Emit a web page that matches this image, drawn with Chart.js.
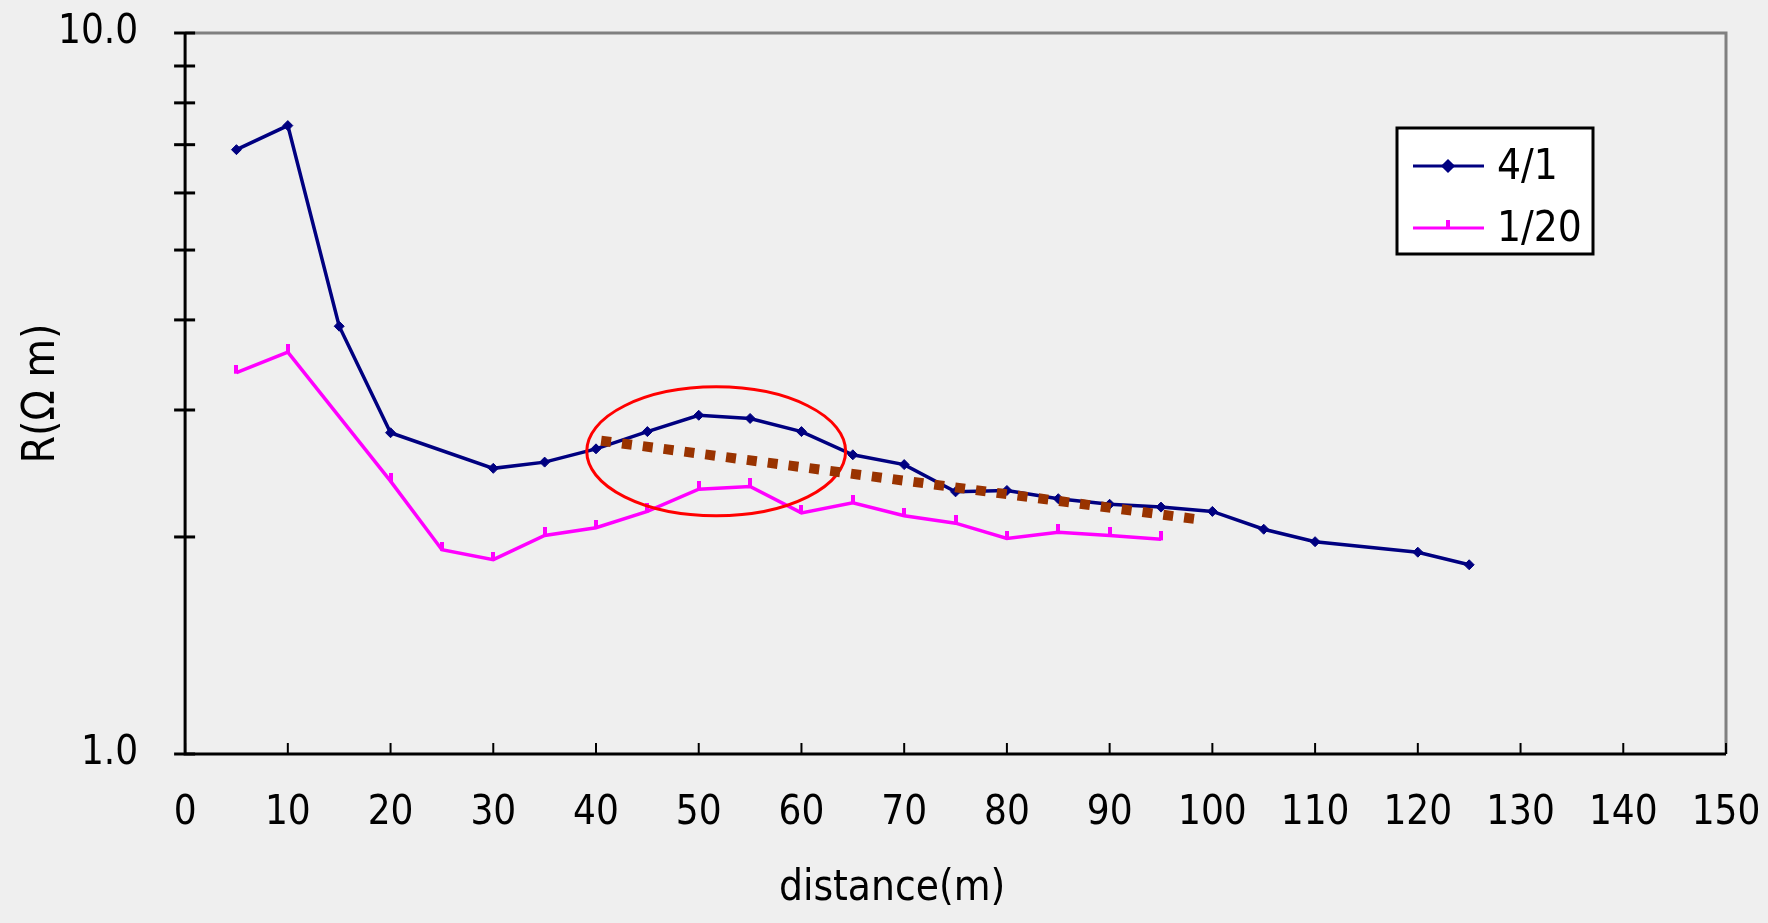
<!DOCTYPE html>
<html>
<head>
<meta charset="utf-8">
<script src="https://cdn.jsdelivr.net/npm/chart.js@4.4.1/dist/chart.umd.min.js"></script>
<style>
  html, body { margin: 0; padding: 0; background: #efefef; }
  #wrap { width: 1768px; height: 923px; }
</style>
</head>
<body>
<div id="wrap"><canvas id="chart" width="1768" height="923"></canvas></div>
<script>
// 4/1 measurements
const dist41 = [5, 10, 15, 20, 30, 35, 40, 45, 50, 55, 60, 65, 70, 75, 80, 85, 90, 95, 100, 105, 110, 120, 125];
const res41 = [6.89, 7.44, 3.92, 2.79, 2.49, 2.54, 2.65, 2.80, 2.95, 2.92, 2.80, 2.60, 2.52, 2.31, 2.32, 2.26, 2.22, 2.20, 2.17, 2.05, 1.97, 1.905, 1.83];

// 1/20 measurements
const dist120 = [5, 10, 20, 25, 30, 35, 40, 45, 50, 55, 60, 65, 70, 75, 80, 85, 90, 95];
const res120 = [3.38, 3.61, 2.39, 1.92, 1.86, 2.01, 2.06, 2.17, 2.33, 2.35, 2.16, 2.23, 2.14, 2.09, 1.99, 2.03, 2.01, 1.985];

// dotted trend line (start / end)
const trendX = [40.5, 99.2];
const trendY = [2.72, 2.11];

// red ellipse extent (data units)
const ellipseX = [39.1, 64.3];
const ellipseY = [2.14, 3.23];

// axis ticks
const xTicks = [0, 10, 20, 30, 40, 50, 60, 70, 80, 90, 100, 110, 120, 130, 140, 150];
const yTicks = [1, 2, 3, 4, 5, 6, 7, 8, 9, 10];
const yLabeled = [1, 10];

const FONT = '"DejaVu Sans Condensed", "Liberation Sans", sans-serif';
Chart.defaults.font.family = FONT;
Chart.defaults.color = '#000';

const toPoints = (xs, ys) => xs.map((x, i) => ({ x: x, y: ys[i] }));

// little tick standing on top of the line (1/20 marker)
const tickMark = document.createElement('canvas');
tickMark.width = 4;
tickMark.height = 16;
const tctx = tickMark.getContext('2d');
tctx.fillStyle = '#ff00ff';
tctx.fillRect(0, 0, 4, 9);

// frame, ticks, titles, ellipse, legend
const decor = {
    id: 'decor',
    beforeDatasetsDraw(chart) {
        const { ctx, chartArea: a, scales } = chart;
        ctx.save();
        // grey top / right
        ctx.strokeStyle = '#808080';
        ctx.lineWidth = 3;
        ctx.beginPath();
        ctx.moveTo(a.left, a.top);
        ctx.lineTo(a.right, a.top);
        ctx.lineTo(a.right, a.bottom);
        ctx.stroke();
        // black left / bottom
        ctx.strokeStyle = '#000';
        ctx.beginPath();
        ctx.moveTo(a.left, a.top);
        ctx.lineTo(a.left, a.bottom);
        ctx.lineTo(a.right, a.bottom);
        ctx.stroke();
        // y ticks crossing the axis
        yTicks.forEach(v => {
            const y = scales.y.getPixelForValue(v);
            ctx.beginPath();
            ctx.moveTo(a.left - 11, y);
            ctx.lineTo(a.left + 10, y);
            ctx.stroke();
        });
        // x ticks inside
        ctx.lineWidth = 2;
        xTicks.forEach(v => {
            const x = scales.x.getPixelForValue(v);
            ctx.beginPath();
            ctx.moveTo(x, a.bottom);
            ctx.lineTo(x, a.bottom - 11);
            ctx.stroke();
        });
        // axis titles
        ctx.fillStyle = '#000';
        ctx.font = '42px ' + FONT;
        ctx.textAlign = 'center';
        ctx.textBaseline = 'middle';
        ctx.fillText('distance(m)', a.left + 707, a.bottom + 135);
        ctx.translate(a.left - 143, (a.top + a.bottom) / 2);
        ctx.rotate(-Math.PI / 2);
        ctx.font = '44px ' + FONT;
        ctx.fillText('R(Ω m)', 0, 0);
        ctx.restore();
    },
    afterDatasetDraw(chart, args) {
        if (args.index !== 1) return;
        const { ctx, scales } = chart;
        const x0 = scales.x.getPixelForValue(ellipseX[0]);
        const x1 = scales.x.getPixelForValue(ellipseX[1]);
        const y0 = scales.y.getPixelForValue(ellipseY[0]);
        const y1 = scales.y.getPixelForValue(ellipseY[1]);
        ctx.save();
        ctx.strokeStyle = '#ff0000';
        ctx.lineWidth = 3;
        ctx.beginPath();
        ctx.ellipse((x0 + x1) / 2, (y0 + y1) / 2, Math.abs(x1 - x0) / 2, Math.abs(y1 - y0) / 2, 0, 0, Math.PI * 2);
        ctx.stroke();
        ctx.restore();
    },
    afterDraw(chart) {
        const { ctx, chartArea: a } = chart;
        const bx = a.right - 329, by = a.top + 95, bw = 196, bh = 126;
        ctx.save();
        ctx.fillStyle = '#fff';
        ctx.fillRect(bx, by, bw, bh);
        ctx.strokeStyle = '#000';
        ctx.lineWidth = 3;
        ctx.strokeRect(bx, by, bw, bh);
        const items = chart.data.datasets.filter(d => !d.hideInLegend);
        items.forEach((d, i) => {
            const y = by + 38 + i * 62;
            ctx.strokeStyle = d.borderColor;
            ctx.fillStyle = d.backgroundColor;
            ctx.lineWidth = 3;
            ctx.beginPath();
            ctx.moveTo(bx + 16, y);
            ctx.lineTo(bx + 87, y);
            ctx.stroke();
            Chart.helpers.drawPoint(ctx, {
                pointStyle: d.pointStyle,
                rotation: 0,
                radius: d.pointRadius,
                borderWidth: d.pointBorderWidth
            }, bx + 51, y);
            ctx.fillStyle = '#000';
            ctx.font = '42px ' + FONT;
            ctx.textAlign = 'left';
            ctx.textBaseline = 'middle';
            ctx.fillText(d.label, bx + 100, y + 2);
        });
        ctx.restore();
    }
};

new Chart(document.getElementById('chart'), {
    type: 'line',
    data: {
        datasets: [
            {
                label: '4/1',
                data: toPoints(dist41, res41),
                borderColor: '#000080',
                backgroundColor: '#000080',
                borderWidth: 3.5,
                pointStyle: 'rectRot',
                pointRadius: 5,
                pointBorderWidth: 1,
                tension: 0,
                order: 2
            },
            {
                label: '1/20',
                data: toPoints(dist120, res120),
                borderColor: '#ff00ff',
                backgroundColor: '#ff00ff',
                borderWidth: 3.5,
                pointStyle: tickMark,
                pointRadius: 4,
                pointBorderWidth: 0,
                tension: 0,
                order: 1
            },
            {
                label: 'trend',
                hideInLegend: true,
                data: toPoints(trendX, trendY),
                borderColor: '#993300',
                borderWidth: 10,
                borderDash: [10, 11],
                borderCapStyle: 'butt',
                pointRadius: 0,
                tension: 0,
                order: 0
            }
        ]
    },
    options: {
        responsive: false,
        animation: false,
        events: [],
        layout: {
            padding: { left: 11, right: 42, top: 33, bottom: 49 }
        },
        scales: {
            x: {
                type: 'linear',
                min: 0,
                max: 150,
                grid: { display: false, drawTicks: false },
                border: { display: false },
                afterBuildTicks: scale => { scale.ticks = xTicks.map(v => ({ value: v })); },
                afterFit: scale => { scale.paddingLeft = 0; scale.paddingRight = 0; },
                ticks: {
                    padding: 36,
                    maxRotation: 0,
                    autoSkip: false,
                    font: { size: 40 },
                    color: '#000'
                }
            },
            y: {
                type: 'logarithmic',
                min: 1,
                max: 10,
                grid: { display: false, drawTicks: false },
                border: { display: false },
                afterBuildTicks: scale => { scale.ticks = yTicks.map(v => ({ value: v })); },
                afterFit: scale => { scale.paddingTop = 0; scale.paddingBottom = 0; },
                ticks: {
                    padding: 47,
                    autoSkip: false,
                    font: { size: 40 },
                    color: '#000',
                    callback: v => yLabeled.includes(v) ? v.toFixed(1) : ''
                }
            }
        },
        plugins: {
            legend: { display: false },
            tooltip: { enabled: false }
        }
    },
    plugins: [decor]
});
</script>
</body>
</html>
